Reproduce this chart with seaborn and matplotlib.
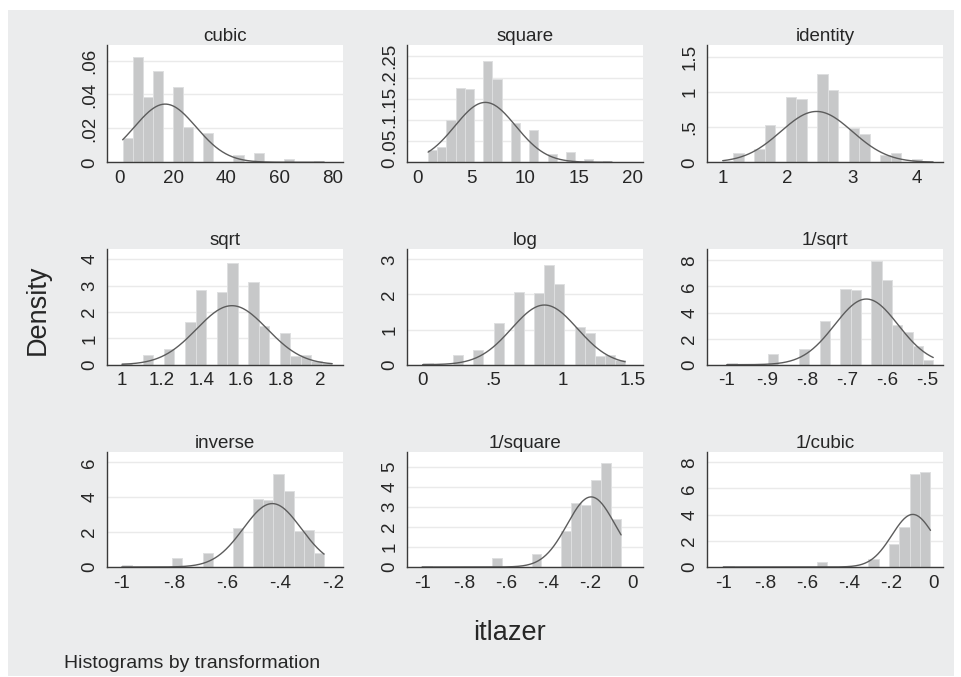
import numpy as np
import pandas as pd
import matplotlib
matplotlib.use("Agg")
import matplotlib.pyplot as plt
from matplotlib.patches import Rectangle
from matplotlib.ticker import FuncFormatter
import seaborn as sns

# itlazer response levels and the number of observations at each level
itlazer_levels = [1.0, 1.25, 1.5, 1.75, 2.0, 2.25, 2.5, 2.75, 3.0, 3.25, 3.5, 3.75, 4.0, 4.25]
itlazer_counts = [1, 6, 9, 25, 44, 43, 60, 49, 23, 19, 5, 6, 2, 1]

# ladder of powers, in panel order
transformations = ["cubic", "square", "identity",
                   "sqrt", "log", "1/sqrt",
                   "inverse", "1/square", "1/cubic"]

x_ticks = {
    "cubic": [0, 20, 40, 60, 80],
    "square": [0, 5, 10, 15, 20],
    "identity": [1, 2, 3, 4],
    "sqrt": [1, 1.2, 1.4, 1.6, 1.8, 2],
    "log": [0, 0.5, 1, 1.5],
    "1/sqrt": [-1, -0.9, -0.8, -0.7, -0.6, -0.5],
    "inverse": [-1, -0.8, -0.6, -0.4, -0.2],
    "1/square": [-1, -0.8, -0.6, -0.4, -0.2, 0],
    "1/cubic": [-1, -0.8, -0.6, -0.4, -0.2, 0],
}
y_ticks = {
    "cubic": [0, 0.02, 0.04, 0.06],
    "square": [0, 0.05, 0.1, 0.15, 0.2, 0.25],
    "identity": [0, 0.5, 1, 1.5],
    "sqrt": [0, 1, 2, 3, 4],
    "log": [0, 1, 2, 3],
    "1/sqrt": [0, 2, 4, 6, 8],
    "inverse": [0, 2, 4, 6],
    "1/square": [0, 1, 2, 3, 4, 5],
    "1/cubic": [0, 2, 4, 6, 8],
}

ladder = {
    "cubic": lambda v: v ** 3,
    "square": lambda v: v ** 2,
    "identity": lambda v: v,
    "sqrt": np.sqrt,
    "log": np.log,
    "1/sqrt": lambda v: -1 / np.sqrt(v),
    "inverse": lambda v: -1 / v,
    "1/square": lambda v: -1 / v ** 2,
    "1/cubic": lambda v: -1 / v ** 3,
}

# ---- layout (pixels on a 962 x 677 canvas) ----
W, H = 962, 677
col_left = [106.7, 406.7, 706.7]
col_width = 236.6
row_top = [45.0, 249.3, 452.3]
row_bottom = [162.3, 364.7, 567.0]

x_limits = {
    "cubic": (-5.0, 84.0), "square": (-0.99, 20.99), "identity": (0.753, 4.41),
    "sqrt": (0.923, 2.118), "log": (-0.114, 1.576), "1/sqrt": (-1.05, -0.46),
    "inverse": (-1.057, -0.1625), "1/square": (-1.073, 0.05), "1/cubic": (-1.079, 0.048),
}
y_tops = {
    "cubic": 0.0692, "square": 0.2767, "identity": 1.666,
    "sqrt": 4.38, "log": 3.286, "1/sqrt": 8.85,
    "inverse": 6.58, "1/square": 5.73, "1/cubic": 8.76,
}

BG = "#EBECED"
BAR = "#C7C8C9"
BAR_EDGE = "#DEDFE0"
CURVE = "#5C5C5C"
AXIS = "#3A3A3A"
TEXT = "#262626"

sns.set_theme(style="white")
plt.rcParams["font.family"] = ["Liberation Sans", "DejaVu Sans"]
plt.rcParams["text.color"] = TEXT


def stata_label(v, pos=None):
    s = f"{v:.3f}".rstrip("0").rstrip(".")
    if s in ("-0", ""):
        s = "0"
    if s.startswith("0."):
        s = s[1:]
    elif s.startswith("-0."):
        s = "-" + s[2:]
    return s


fig = plt.figure(figsize=(W / 100, H / 100), dpi=100)
fig.patch.set_facecolor("white")
fig.patches.append(Rectangle((8 / W, 1 - 676 / H), (954 - 8) / W, (676 - 10) / H,
                             transform=fig.transFigure, facecolor=BG,
                             edgecolor="none", zorder=-10))

levels = np.array(itlazer_levels, dtype=float)
counts = np.array(itlazer_counts, dtype=float)

for i, name in enumerate(transformations):
    r, c = divmod(i, 3)
    left = col_left[c]
    top = row_top[r]
    bottom = row_bottom[r]
    ax = fig.add_axes([left / W, 1 - bottom / H, col_width / W, (bottom - top) / H])
    ax.set_facecolor("white")

    t = ladder[name](levels)
    df = pd.DataFrame({"value": t, "n": counts})

    sns.histplot(data=df, x="value", weights="n", bins=20,
                 binrange=(t.min(), t.max()), stat="density", ax=ax,
                 color=BAR, edgecolor=BAR_EDGE, linewidth=0.7, alpha=1.0,
                 zorder=2)

    # normal density with the same mean and standard deviation
    n_tot = counts.sum()
    mu = np.sum(counts * t) / n_tot
    sd = np.sqrt(np.sum(counts * (t - mu) ** 2) / (n_tot - 1))
    grid = np.linspace(t.min(), t.max(), 300)
    dens = np.exp(-0.5 * ((grid - mu) / sd) ** 2) / (sd * np.sqrt(2 * np.pi))
    sns.lineplot(x=grid, y=dens, ax=ax, color=CURVE, linewidth=1.0, zorder=3)

    ax.set_xlim(*x_limits[name])
    ax.set_ylim(0, y_tops[name])
    ax.set_xticks(x_ticks[name])
    ax.set_yticks(y_ticks[name])
    ax.xaxis.set_major_formatter(FuncFormatter(stata_label))
    ax.yaxis.set_major_formatter(FuncFormatter(stata_label))
    ax.set_xlabel("")
    ax.set_ylabel("")

    for side in ("top", "right"):
        ax.spines[side].set_visible(False)
    for side in ("left", "bottom"):
        ax.spines[side].set_color(AXIS)
        ax.spines[side].set_linewidth(1.0)
        ax.spines[side].set_zorder(4)

    ax.yaxis.grid(True, color="#EAEAEA", linewidth=1.0, zorder=0)
    ax.xaxis.grid(False)
    ax.set_axisbelow(True)

    ax.tick_params(axis="both", direction="out", length=3.6, width=0.9,
                   color=AXIS, labelsize=13.5, labelcolor=TEXT, pad=2)
    ax.tick_params(axis="y", labelrotation=90, pad=2.5)
    for lab in ax.get_yticklabels():
        lab.set_va("center")

    ax.set_title(name, fontsize=13.5, pad=3, color=TEXT)

fig.text(38 / W, 1 - 310 / H, "Density", rotation=90, ha="center", va="center",
         fontsize=19.5, color=TEXT)
fig.text(510 / W, 1 - 633 / H, "itlazer", ha="center", va="center",
         fontsize=19.5, color=TEXT)
fig.text(64 / W, 1 - 664 / H, "Histograms by transformation", ha="left",
         va="center", fontsize=14, color=TEXT)

fig.savefig("out.png", dpi=100, facecolor=fig.get_facecolor())
